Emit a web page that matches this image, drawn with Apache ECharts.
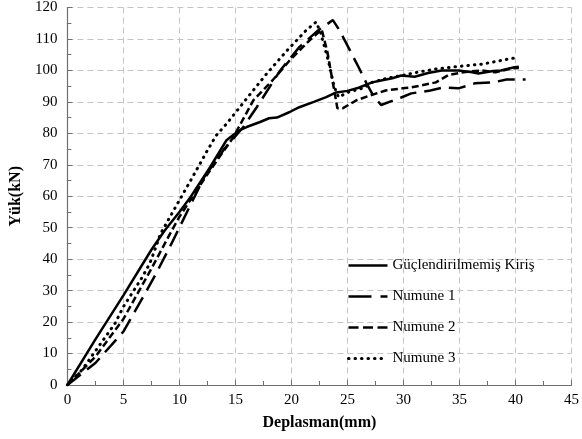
<!DOCTYPE html>
<html>
<head>
<meta charset="utf-8">
<script src="https://cdn.jsdelivr.net/npm/echarts@6/dist/echarts.min.js"></script>
<style>
  html, body { margin: 0; padding: 0; background: #fff; }
  #chart { width: 582px; height: 439px; }
</style>
</head>
<body>
<div id="chart"></div>
<script>
// legend names
const seriesNames = ["Güçlendirilmemiş Kiriş", "Numune 1", "Numune 2", "Numune 3"];

// Güçlendirilmemiş Kiriş (solid)
const refX = [0, 2.5, 5, 7.5, 8.7, 10, 11, 12.75, 14.2, 14.8, 15.4, 16, 17.2, 18, 18.7, 19.8, 20.7, 22, 23.1, 24, 25, 26, 27.2, 28, 29, 29.8, 31, 32.2, 33.4, 34.9, 36, 36.7, 38, 38.7, 39.9, 40.3];
const refY = [0, 14.5, 28.5, 43, 49.2, 55, 59.8, 69.3, 77.8, 79.5, 81, 82, 83.6, 84.8, 85, 86.7, 88.3, 90, 91.5, 93, 93.5, 94.5, 96.2, 96.8, 97.5, 98.4, 98, 99.2, 100, 100, 99.5, 99, 99.8, 100, 101, 101.2];

// Numune 1 (long dash)
const n1X = [0, 2.5, 5, 7, 8, 9.3, 11.3, 12.2, 14, 15.7, 16.9, 19, 20.7, 22.3, 23.7, 24.3, 26, 26.7, 27.3, 28, 29.8, 30.7, 32.4, 33.6, 34.9, 36.4, 38, 39.2, 40.9];
const n1Y = [0, 7, 17, 29.5, 36, 45, 59.5, 66, 75, 82, 88.3, 100, 107.4, 112.5, 116, 112.7, 101, 95.9, 92, 89, 91.4, 92.7, 93.6, 94.6, 94.3, 95.9, 96.2, 97.1, 97.1];

// Numune 2 (medium dash)
const n2X = [0, 2.5, 5, 7.5, 9, 10, 12.5, 14.8, 16.6, 18.3, 19.8, 21.6, 22.7, 23.2, 23.7, 24.1, 24.6, 25.8, 27, 28.4, 29.9, 30.7, 32.9, 34, 35.5, 37, 38.2, 39.6, 40.3];
const n2Y = [0, 9, 21, 37, 47, 53.5, 67, 78.7, 90.5, 96.8, 103, 109.5, 113, 106, 96, 88, 88, 90.5, 92, 93.6, 94.3, 94.6, 96.2, 98.5, 99.5, 100, 99.4, 100.6, 100.8];

// Numune 3 (dotted)
const n3X = [0, 1.3, 3.4, 4.25, 5, 5.85, 6.7, 7.35, 7.8, 8.3, 9.5, 11, 12.5, 13.3, 14.2, 15.1, 16.1, 17.8, 19.6, 21.3, 22.2, 22.6, 23.3, 23.8, 24.2, 25, 26.5, 27.2, 28.5, 30, 31.2, 33, 35, 37, 38.5, 39.6, 40.3];
const n3Y = [0, 4.8, 15.3, 19.6, 24.9, 29.6, 34.4, 38.6, 42.9, 48, 55.6, 65, 74.6, 79.4, 83, 87, 91.5, 99, 106.3, 112.7, 115.4, 112, 103, 95, 91.5, 93, 94.5, 96.2, 97.5, 98.5, 99.4, 100.5, 101.3, 102, 103, 103.8, 104];

const xs = [refX, n1X, n2X, n3X];
const ys = [refY, n1Y, n2Y, n3Y];

const zip = (a, b) => a.map((v, i) => [v, b[i]]);

const serif = "'Liberation Serif', 'DejaVu Serif', serif";

// cizgi stilleri
const lineStyles = [
  { color: "#000", width: 2.5, type: "solid" },
  { color: "#000", width: 2.5, type: [17, 8] },
  { color: "#000", width: 2.5, type: [7, 3.5] },
  { color: "#000", width: 3, type: [0.5, 6], cap: "round" },
];
// legend icon dash patterns
const legendDash = ["solid", [23, 9], [10, 4.5], [0.5, 6]];

const chart = echarts.init(document.getElementById("chart"));

const gridLine = { show: true, lineStyle: { color: "#c4c4c4", width: 1, type: [6, 4] } };

const option = {
  animation: false,
  backgroundColor: "#fff",
  grid: { left: 66, right: 8, top: 7, bottom: 54 },
  legend: {
    orient: "vertical",
    left: 347,
    top: 258,
    padding: 0,
    itemWidth: 39,
    itemHeight: 14,
    itemGap: 16,
    itemStyle: { opacity: 0 },
    textStyle: { fontFamily: serif, fontSize: 15, color: "#000" },
    data: seriesNames.map((name, i) => ({
      name: name,
      lineStyle: { type: legendDash[i], color: "#000", width: i === 3 ? 3 : 2.5, cap: i === 3 ? "round" : "butt" },
    })),
  },
  xAxis: {
    type: "value",
    min: 0,
    max: 45,
    interval: 5,
    name: "Deplasman(mm)",
    nameLocation: "middle",
    nameGap: 30,
    nameTextStyle: { fontFamily: serif, fontSize: 16, fontWeight: "bold", color: "#000" },
    axisLine: { show: true, onZero: false, lineStyle: { color: "#6f6f6f", width: 1.2 } },
    axisTick: { show: true, inside: true, length: 5, lineStyle: { color: "#6f6f6f" } },
    minorTick: { show: true, splitNumber: 2, length: 4, lineStyle: { color: "#6f6f6f" } },
    axisLabel: { fontFamily: serif, fontSize: 15, color: "#000", margin: 8 },
    splitLine: gridLine,
  },
  yAxis: {
    type: "value",
    min: 0,
    max: 120,
    interval: 10,
    name: "Yük(kN)",
    nameLocation: "middle",
    nameGap: 37,
    nameTextStyle: { fontFamily: serif, fontSize: 16, fontWeight: "bold", color: "#000" },
    axisLine: { show: true, onZero: false, lineStyle: { color: "#6f6f6f", width: 1.2 } },
    axisTick: { show: true, inside: true, length: 5, lineStyle: { color: "#6f6f6f" } },
    minorTick: { show: true, splitNumber: 2, length: 4, lineStyle: { color: "#6f6f6f" } },
    axisLabel: { fontFamily: serif, fontSize: 15, color: "#000", margin: 10 },
    splitLine: gridLine,
  },
  series: seriesNames.map((name, i) => ({
    name: name,
    type: "line",
    symbol: "none",
    smooth: false,
    data: zip(xs[i], ys[i]),
    lineStyle: lineStyles[i],
    itemStyle: { color: "#000" },
  })),
};

chart.setOption(option);
</script>
</body>
</html>
